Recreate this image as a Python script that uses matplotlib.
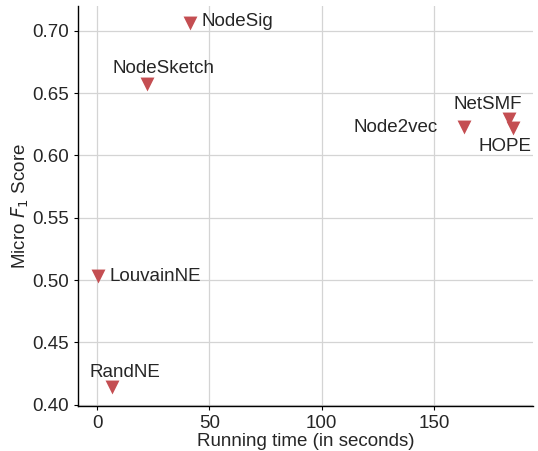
import numpy as np
import matplotlib.pyplot as plt

plt.rcParams['font.family'] = ['Liberation Sans', 'DejaVu Sans']

methods = ['NodeSig', 'NodeSketch', 'LouvainNE', 'RandNE', 'Node2vec', 'NetSMF', 'HOPE']
run_time = [41.4, 22.2, 0.3, 6.5, 163.5, 183.6, 185.1]
micro_f1 = [0.706, 0.657, 0.503, 0.414, 0.6225, 0.629, 0.6217]
# label placement: (dx, dy) in pixels, ha, va
label_pos = {
    'NodeSig': (11, 2, 'left', 'center'),
    'NodeSketch': (17, 11, 'center', 'baseline'),
    'LouvainNE': (12, 0, 'left', 'center'),
    'RandNE': (13, 10, 'center', 'baseline'),
    'Node2vec': (-26, 0, 'right', 'center'),
    'NetSMF': (-22, 10, 'center', 'baseline'),
    'HOPE': (-8, -10, 'center', 'top'),
}

fig, ax = plt.subplots(figsize=(5.38, 4.51), dpi=100)
ax.scatter(run_time, micro_f1, marker='v', s=100, color='#c44e52', zorder=3, linewidths=0)

for m, x, y in zip(methods, run_time, micro_f1):
    dx, dy, ha, va = label_pos[m]
    ax.annotate(m, (x, y), xytext=(dx, dy), textcoords='offset pixels',
                ha=ha, va=va, fontsize=13.5, color='#262626')

ax.set_xlim(-8.5, 194)
ax.set_ylim(0.399, 0.72)
ax.set_xticks([0, 50, 100, 150])
ax.set_yticks([0.40, 0.45, 0.50, 0.55, 0.60, 0.65, 0.70])
ax.set_yticklabels(['%.2f' % v for v in ax.get_yticks()])
ax.grid(True, color='#d4d4d4', linewidth=0.9)
ax.set_axisbelow(True)
for s in ['top', 'right']:
    ax.spines[s].set_visible(False)
for s in ['left', 'bottom']:
    ax.spines[s].set_color('black')
    ax.spines[s].set_linewidth(1.0)
ax.tick_params(labelsize=13.5, colors='#262626', direction='out', length=3)
ax.tick_params(axis='both', color='black')
ax.set_xlabel('Running time (in seconds)', fontsize=13.5, color='#262626', labelpad=1)
ax.set_ylabel('Micro $F_1$ Score', fontsize=13.5, color='#262626', labelpad=1)

plt.subplots_adjust(left=0.145, right=0.99, top=0.987, bottom=0.1)
plt.savefig('out.png', dpi=100)
